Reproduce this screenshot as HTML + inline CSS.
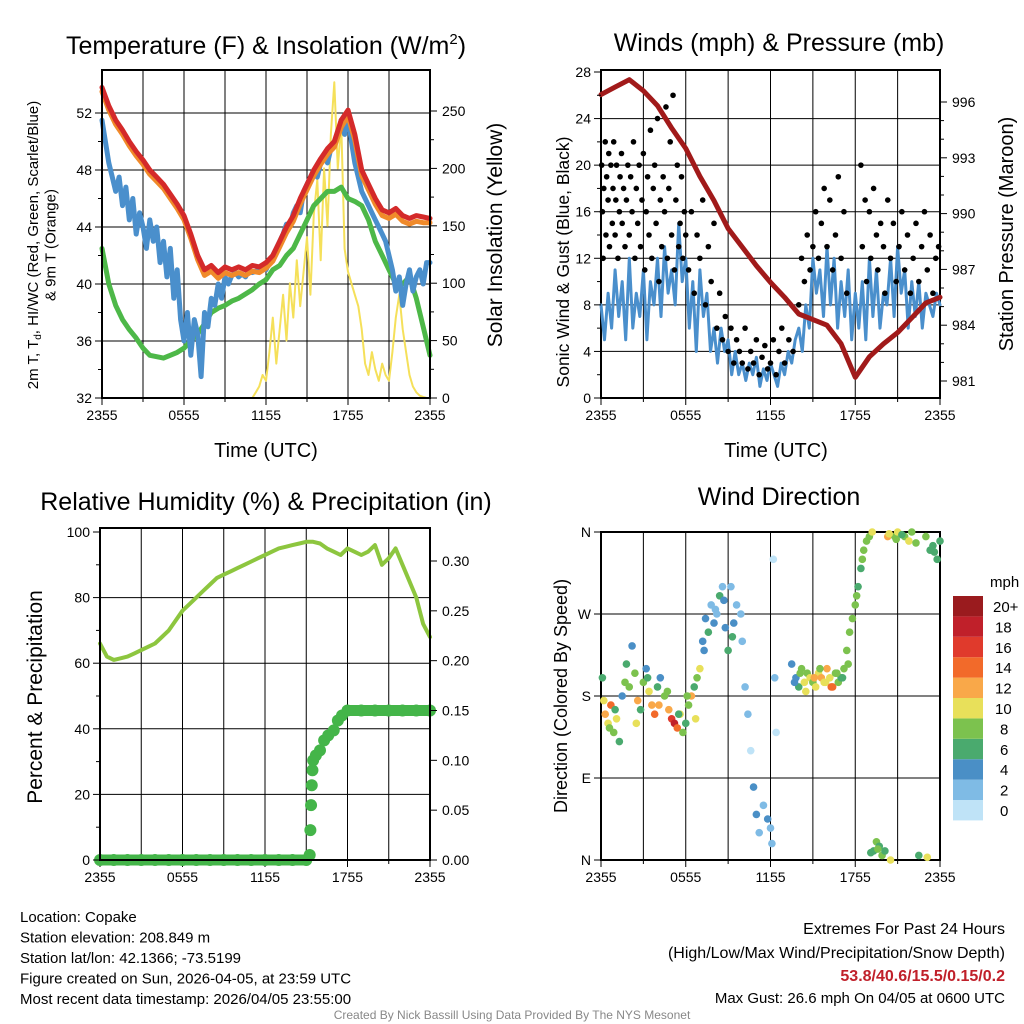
<!DOCTYPE html>
<html><head><meta charset="utf-8">
<style>
html,body{margin:0;padding:0;background:#fff;}
svg{display:block;font-family:"Liberation Sans",sans-serif;}
</style></head>
<body>
<svg id="c" width="1024" height="1024" viewBox="0 0 1024 1024" xmlns="http://www.w3.org/2000/svg">
<rect width="1024" height="1024" fill="#fff"/>
<g id="g"></g>
</svg>
<script>
// ---------- DATA ----------
const xTickLabels = ["2355","0555","1155","1755","2355"];
const halfHours = Array.from({length:49},(_,i)=>i*0.5);
const quarterHours = Array.from({length:97},(_,i)=>i*0.25);
const temp2m = [53.8,52.5,51.5,50.8,50,49.3,48.7,48,47.5,47,46.3,45.6,44.8,43.5,42,41,41.3,40.8,41.2,41,41.2,41,41.3,41.2,41.5,42,43,44,44.8,46,47,48,48.8,49.5,50,51.5,52.2,50.5,48,47,46,45.2,45,45.3,44.8,44.6,44.8,44.7,44.6];
const temp9m = [53.5,52.2,51.2,50.5,49.7,49,48.4,47.7,47.2,46.7,46,45.3,44.5,43.2,41.7,40.6,40.9,40.4,40.8,40.6,40.8,40.6,40.9,40.8,41.1,41.6,42.6,43.6,44.4,45.6,46.6,47.6,48.4,49.1,49.6,51,51.8,50.1,47.6,46.6,45.6,44.8,44.6,44.9,44.4,44.2,44.4,44.3,44.3];
const dewpoint = [42.5,40,38.5,37.5,36.8,36.2,35.5,35,34.9,34.8,35,35.2,35.5,36,36.5,37.2,38,38.3,38.5,38.8,39,39.3,39.6,40,40.3,41,41.3,42,42.5,43.5,44.5,45.5,46,46.5,46.5,46.8,46,45.8,45.5,44.5,43,42,41,40,40,40.5,39,37,35];
const heatIndex = [51.5,50,48.5,47.5,46.5, 47.5,45.5,46.8,44.5, 46,43.5,45,44, 42.5,44.5,43,44, 41.5,43,40.5,42.5, 39,41,37.5,36, 38,35,37.5,36.5, 33.5,38,37,39, 38.5,40,39,40.5, 40,40.6,40.8,40.5, 40.7,40.5,41,40.8, 40.9,41,41.2,41, 41.5,42,42.5,43, 43.5,44.2,44,45, 45.5,45,46.5,47, 47.5,48,47.5,48.5, 49,48.5,49.5,50, 50.5,51.5,50.5,51.8, 50,48.5,47.5,46.5, 46,45.5,45,44.5, 44,43.5,43,42, 41,39.5,40.5,38.5, 40,41,39.5,40.5, 41,40,41.5,41.5];
const insolation = [0,0,0,0,0,0,0,0,0,0,0,0,0,0,0,0,0,0,0,0,0,0,0,0,0,0,0,0,0,0,0,0,0,0,0,0,0,0,0,0,0,0,0,0, 0,5,10,20,15,40,70,30,60,90,50,100,70,120,80,110,140,90,160,190,120,200,150,230,275,200,240,130,110,100,90,80,60,30,20,40,25,15,30,20,15,40,70,90,60,40,20,10,5,2,1,0,0];
const windSpeed = [8,5,9,6,11, 7,10,5,12, 6,9,7,11, 5,10,8,12, 7,13,9,11, 8,15,10,12, 6,10,4,11, 7,9,4,6, 3,6,4,5, 2,4,2,3, 1.5,3,2,3.5, 1,2.5,1.5,3, 2,1,3,2, 4,3,5,6, 4,8,6,12, 9,11,7,13, 8,12,6,10, 7,11,5,9, 6,10,5,12, 7,11,6,9, 8,12,7,13, 9,11,6,10, 7,10,6,9, 8,7,9,8];
const hours = Array.from({length:25},(_,i)=>i);
const pressure = [996.4,996.8,997.2,996.6,995.8,994.6,993.5,992,990.7,989.2,988.2,987.2,986.3,985.5,984.6,984.3,984,983,981.2,982.3,983,983.6,984.4,985.2,985.5];
const gustTime = [0.05,0.1,0.15,0.2,0.3,0.35,0.4,0.5,0.55,0.6,0.7,0.8,0.85,0.9,1.0,1.05,1.1,1.2,1.3,1.35,1.45,1.5,1.6,1.7,1.8,1.9,2.0,2.1,2.2,2.3,2.4,2.5,2.6,2.7,2.8,2.9,3.0,3.1,3.2,3.3,3.4,3.5,3.6,3.7,3.8,3.9,4.0,4.1,4.2,4.3,4.4,4.5,4.6,4.7,4.8,4.9,5.0,5.1,5.2,5.3,5.4,5.5,5.6,5.7,5.8,5.9,6.0,6.2,6.4,6.6,6.8,7.0,7.2,7.4,7.6,7.8,8.0,8.2,8.4,8.6,8.8,9.0,9.2,9.4,9.6,9.8,10.0,10.2,10.4,10.6,10.8,11.0,11.2,11.4,11.6,11.8,12.0,12.2,12.4,12.6,12.8,13.0,13.3,13.6,14.0,14.2,14.4,14.6,14.8,15.0,15.2,15.4,15.6,15.8,16.0,16.2,16.4,16.6,16.8,17.0,17.2,17.4,18.4,18.5,18.7,18.8,19.0,19.1,19.3,19.5,19.6,19.8,20.0,20.1,20.3,20.5,20.7,20.9,21.1,21.3,21.5,21.7,21.9,22.1,22.3,22.5,22.7,22.9,23.1,23.3,23.5,23.7,23.9];
const gustValue = [20,16,12,18,22,14,19,17,21,13,20,15,18,22,14,17,20,12,16,19,21,15,18,13,17,20,14,19,16,22,12,18,15,20,13,17,21,11,16,19,14,23,12,18,20,15,24,10,17,13,19,16,25,12,18,22,14,26,11,17,20,13,15,19,12,16,14,11,16,9,14,12,17,8,13,10,15,6,9,5,7,4,6,3,5,4,3,6,2.5,4,3,5,2,3.5,4.5,2.5,3,5,2,4,6,3,5,4,8,12,10,14,11,13,16,12,15,18,13,17,11,14,19,12,16,9,20,13,17,10,16,12,18,14,11,15,13,9,17,12,15,10,13,16,11,14,9,12,15,10,13,16,11,14,9,12,13];
const rh = [66,62,61,61.5,62,63,64,65,66,68,70,73,76,78,80,82,84,86,87,88,89,90,91,92,93,94,95,95.5,96,96.5,97,97,96.5,95,94,93,95,94,93,94,96,90,92,95,90,85,80,72,68];
const precipTime = [0,1,2,3,4,5,6,7,8,9,10,11,12,13,14,15,15.25,15.3,15.35,15.4,15.45,15.5,15.7,16,16.3,16.6,17,17.3,17.6,18,19,20,21,22,23,24];
const precipValue = [0,0,0,0,0,0,0,0,0,0,0,0,0,0,0,0,0.005,0.03,0.055,0.075,0.09,0.1,0.105,0.11,0.12,0.125,0.13,0.14,0.145,0.15,0.15,0.15,0.15,0.15,0.15,0.15];
const dirTime = [0.1,0.3,0.5,0.7,0.9,1.1,1.3,1.5,1.8,2,2.2,2.4,2.6,2.8,3,3.2,3.4,3.6,3.8,4,4.2,4.5,4.8,5,5.2,5.4,5.6,5.8,6,6.2,6.4,6.6,6.8,7,7.2,7.4,7.6,7.8,8,8.2,8.4,8.6,8.8,9,9.2,9.4,9.6,10,10.2,10.4,10.6,10.8,11,11.2,11.5,11.8,12,12.1,12.2,12.3,12.4,13.5,13.8,14,14.2,14.4,14.6,14.8,15,15.2,15.4,15.6,15.8,16,16.2,16.4,16.6,16.8,17,17.2,17.4,17.6,17.8,18,18.2,18.4,18.6,18.8,19,19.2,19.3,19.5,19.7,19.9,20.1,20.3,20.5,20.8,21,21.5,21.8,22,22.5,23,23.3,23.5,23.8,24, 0.2,0.6,1.0,1.7,2.5,3.3,4.1,4.7,5.5,6.1,6.7,7.3,8.1,8.7,9.3,9.9,13.7,14.1,14.5,15.1,15.5,15.9,16.3,16.7,17.1,17.5,18.1,18.5,19.1,19.6,20.4,20.9,21.3,22.3,23.1,23.6];
const dirValue = [200,160,150,170,140,155,130,180,215,190,235,205,175,165,195,210,185,170,160,190,200,180,165,155,150,145,160,140,150,170,180,190,200,210,240,265,250,280,260,270,290,300,255,230,300,260,280,240,190,160,120,80,50,30,60,45,35,18,330,200,140,215,200,190,210,195,205,200,195,190,205,200,195,210,200,190,205,195,200,210,230,250,265,280,300,320,340,350,355,360,10,20,15,5,10,355,0,355,360,355,350,360,5,355,340,345,330,350, 175,145,165,195,150,200,170,185,160,180,155,230,275,285,245,270,195,205,185,200,210,195,190,205,200,215,290,330,8,12,358,352,357,348,3,338];
const dirSpeed = [6,12,10,14,8,10,6,4,6,8,4,8,12,6,8,4,10,12,14,6,4,8,12,16,18,14,10,8,6,8,12,6,8,10,4,4,6,2,4,2,6,2,4,6,2,4,2,2,2,2,0,4,4,2,2,4,2,2,0,2,0,4,4,6,8,10,8,10,8,10,10,12,10,12,10,14,8,8,6,8,8,8,8,8,6,6,8,8,8,10,6,8,6,8,6,12,10,8,10,8,10,8,6,8,6,6,6,6, 10,8,6,8,10,6,12,8,6,8,10,4,2,4,6,2,4,8,10,12,8,10,14,8,6,8,8,8,6,8,10,8,6,8,10,6];
const speedBins = ["0","2","4","6","8","10","12","14","16","18","20+"];
const binColors = ["#bfe3f7","#7fbbe5","#4a8fc6","#4aaa6e","#7cc24e","#e8e05a","#f9a849","#f26a2a","#e03a2c","#c0202a","#9a1b1e"];

// ---------- HELPERS ----------
const NS="http://www.w3.org/2000/svg";
const root=document.getElementById('g');
function el(tag,attrs,parent){const e=document.createElementNS(NS,tag);for(const k in attrs)e.setAttribute(k,attrs[k]);(parent||root).appendChild(e);return e;}
function txt(s,attrs,parent){const t=el('text',attrs,parent);t.textContent=s;return t;}
function lin(a,b,c,d){return v=>c+(v-a)*(d-c)/(b-a);}

function frame(P,name){
  const g=el('g',{});
  
  
  for(let h=3;h<24;h+=3){const x=P.sx(h);el('line',{x1:x,x2:x,y1:P.y0,y2:P.y1,stroke:'#000','stroke-width':1},g);}
  P.hgrid.forEach(v=>{const y=P.sy(v);el('line',{x1:P.x0,x2:P.x1,y1:y,y2:y,stroke:'#000','stroke-width':1},g);});
  el('rect',{x:P.x0,y:P.y0,width:P.x1-P.x0,height:P.y1-P.y0,fill:'none',stroke:'#000','stroke-width':2},g);
  for(let h=0;h<=24;h+=3){const x=P.sx(h);el('line',{x1:x,x2:x,y1:P.y1,y2:P.y1+(h%6==0?7:4),stroke:'#000','stroke-width':1},g);}
  xTickLabels.forEach((s,i)=>{const t=txt(s,{x:P.sx(i*6),y:P.y1+22,'font-size':14,'text-anchor':'middle'},g);});
  return g;
}
function leftTicks(P,vals,labels,minor){
  vals.forEach((v,i)=>{const y=P.sy(v);el('line',{x1:P.x0-7,x2:P.x0,y1:y,y2:y,stroke:'#000'});
    const t=txt(labels[i],{x:P.x0-10,y:y+5,'font-size':14,'text-anchor':'end'});});
  (minor||[]).forEach(v=>{const y=P.sy(v);el('line',{x1:P.x0-4,x2:P.x0,y1:y,y2:y,stroke:'#000'});});
}
function rightTicks(P,sy,vals,labels,minor){
  vals.forEach((v,i)=>{const y=sy(v);el('line',{x1:P.x1,x2:P.x1+7,y1:y,y2:y,stroke:'#000'});
    const t=txt(labels[i],{x:P.x1+12,y:y+5,'font-size':14});});
  (minor||[]).forEach(v=>{const y=sy(v);el('line',{x1:P.x1,x2:P.x1+4,y1:y,y2:y,stroke:'#000'});});
}
function polyline(xs,ys,sx,sy,color,w,name){
  const pts=xs.map((x,i)=>sx(x).toFixed(1)+','+sy(ys[i]).toFixed(1)).join(' ');
  const p=el('polyline',{points:pts,fill:'none',stroke:color,'stroke-width':w,'stroke-linejoin':'round','stroke-linecap':'round'});
  
  
  return p;
}
function title(s,x,y,size){const t=txt(s,{x:x,y:y,'font-size':size,'text-anchor':'middle'});return t;}
function vlabel(lines,x,y,size){const t=el('text',{transform:`translate(${x},${y}) rotate(-90)`,'font-size':size,'text-anchor':'middle'});
  
  lines.forEach((l,i)=>{const s=el('tspan',{x:0,dy:i?size*1.15:0},t);s.innerHTML=l;});return t;}

// ---------- PANEL 1 ----------
{
const P={x0:102,x1:430,y0:70,y1:398};P.sx=lin(0,24,P.x0,P.x1);P.sy=lin(32,52,398,113);P.hgrid=[36,40,44,48,52];
frame(P,'temperature-panel');
const sr=lin(0,250,398,111);
polyline(quarterHours,insolation,P.sx,sr,'#f5e05a',2,'insolation-line');
polyline(halfHours,dewpoint,P.sx,P.sy,'#4db848',5,'dewpoint-line');
polyline(quarterHours,heatIndex,P.sx,P.sy,'#4a8fcc',5,'heat-index-line');
polyline(halfHours,temp9m,P.sx,P.sy,'#f08a2a',5,'temp-9m-line');
polyline(halfHours,temp2m,P.sx,P.sy,'#d42a2a',5,'temp-2m-line');
el('rect',{x:P.x0,y:P.y0,width:P.x1-P.x0,height:P.y1-P.y0,fill:'none',stroke:'#000','stroke-width':2});
leftTicks(P,[32,36,40,44,48,52],["32","36","40","44","48","52"],[34,38,42,46,50]);
rightTicks(P,sr,[0,50,100,150,200,250],["0","50","100","150","200","250"],[25,75,125,175,225]);
const t=title('',266,54,25);t.innerHTML='Temperature (F) &amp; Insolation (W/m<tspan dy="-10" font-size="15">2</tspan><tspan dy="10">)</tspan>';
txt('Time (UTC)',{x:266,y:457,'font-size':20,'text-anchor':'middle'});
vlabel(['2m T, T<tspan font-size="10" dy="3">d</tspan><tspan dy="-3">, HI/WC (Red, Green, Scarlet/Blue)</tspan>','&amp; 9m T (Orange)'],38,245,15);
vlabel(['Solar Insolation (Yellow)'],502,235,21);
}
// ---------- PANEL 2 ----------
{
const P={x0:601,x1:940,y0:70,y1:398};P.sx=lin(0,24,P.x0,P.x1);P.sy=lin(0,28,398,72);P.hgrid=[4,8,12,16,20,24];
frame(P,'winds-panel');
const sp=lin(981,996,381,102);
polyline(quarterHours,windSpeed,P.sx,P.sy,'#4a8fcc',3,'wind-speed-line');
gustTime.forEach((t,i)=>{const c=el('circle',{cx:P.sx(t),cy:P.sy(gustValue[i]),r:2.8,fill:'#000'});
  
  });
polyline(hours,pressure,P.sx,sp,'#a11a1a',5,'pressure-line');
leftTicks(P,[0,4,8,12,16,20,24,28],["0","4","8","12","16","20","24","28"],[2,6,10,14,18,22,26]);
rightTicks(P,sp,[981,984,987,990,993,996],["981","984","987","990","993","996"],[982,983,985,986,988,989,991,992,994,995]);
title('Winds (mph) & Pressure (mb)',779,51,25);
txt('Time (UTC)',{x:776,y:457,'font-size':20,'text-anchor':'middle'});
vlabel(['Sonic Wind &amp; Gust (Blue, Black)'],569,262,17.5);
vlabel(['Station Pressure (Maroon)'],1013,234,20);
}
// ---------- PANEL 3 ----------
{
const P={x0:100,x1:430,y0:528,y1:860};P.sx=lin(0,24,P.x0,P.x1);P.sy=lin(0,100,860,532);P.hgrid=[20,40,60,80];
frame(P,'humidity-panel');
const sr=lin(0,0.3,860,561);
polyline(halfHours,rh,P.sx,P.sy,'#8dc63f',4,'rh-line');
precipTime.forEach((t,i)=>{
  if(i<precipTime.length-1 && precipValue[i]===precipValue[i+1]){const l=el('line',{x1:P.sx(t),x2:P.sx(precipTime[i+1]),y1:sr(precipValue[i]),y2:sr(precipValue[i]),stroke:'#44b549','stroke-width':11,'stroke-linecap':'round'});
    
    }
  const c=el('circle',{cx:P.sx(t),cy:sr(precipValue[i]),r:6,fill:'#44b549'});
  
  });
el('rect',{x:P.x0,y:P.y0,width:P.x1-P.x0,height:P.y1-P.y0,fill:'none',stroke:'#000','stroke-width':2});
leftTicks(P,[0,20,40,60,80,100],["0","20","40","60","80","100"],[10,30,50,70,90]);
rightTicks(P,sr,[0,0.05,0.1,0.15,0.2,0.25,0.3],["0.00","0.05","0.10","0.15","0.20","0.25","0.30"]);
title('Relative Humidity (%) & Precipitation (in)',266,510,25);
vlabel(['Percent &amp; Precipitation'],42,697,21);
}
// ---------- PANEL 4 ----------
{
const P={x0:601,x1:940,y0:532,y1:860};P.sx=lin(0,24,P.x0,P.x1);P.sy=lin(0,360,860,532);P.hgrid=[90,180,270];
frame(P,'wind-direction-panel');
dirTime.forEach((t,i)=>{const b=Math.min(10,Math.round(dirSpeed[i]/2));
  const c=el('circle',{cx:P.sx(t),cy:P.sy(dirValue[i]),r:3.8,fill:binColors[b]});
  
  });
leftTicks(P,[0,90,180,270,360],["N","E","S","W","N"]);
title('Wind Direction',779,505,25);
vlabel(['Direction (Colored By Speed)'],567,696,18);
const lg=el('g',{});
txt('mph',{x:990,y:587,'font-size':15},lg);
speedBins.forEach((s,i)=>{const y=800-i*20.4;
  const r=el('rect',{x:953,y:y,width:30,height:20.4,fill:binColors[i]},lg);
  
  
  txt(s,{x:s.length>2?993:(s.length>1?995:1000),y:y+16,'font-size':15},lg);});
}
// ---------- FOOTER ----------
const foot=el('g',{});
["Location: Copake","Station elevation: 208.849 m","Station lat/lon: 42.1366; -73.5199","Figure created on Sun, 2026-04-05, at 23:59 UTC","Most recent data timestamp: 2026/04/05 23:55:00"].forEach((s,i)=>txt(s,{x:20,y:922+i*20.5,'font-size':15},foot));
const ext=el('g',{});
txt('Extremes For Past 24 Hours',{x:1005,y:934,'font-size':16,'text-anchor':'end'},ext);
txt('(High/Low/Max Wind/Precipitation/Snow Depth)',{x:1005,y:958,'font-size':16,'text-anchor':'end'},ext);
txt('53.8/40.6/15.5/0.15/0.2',{x:1005,y:981,'font-size':16,'font-weight':'bold',fill:'#c0202a','text-anchor':'end'},ext);
txt('Max Gust: 26.6 mph On 04/05 at 0600 UTC',{x:1005,y:1003,'font-size':15,'text-anchor':'end'},ext);
const cr=txt('Created By Nick Bassill Using Data Provided By The NYS Mesonet',{x:512,y:1019,'font-size':12,fill:'#888','text-anchor':'middle'});

</script>
</body></html>
